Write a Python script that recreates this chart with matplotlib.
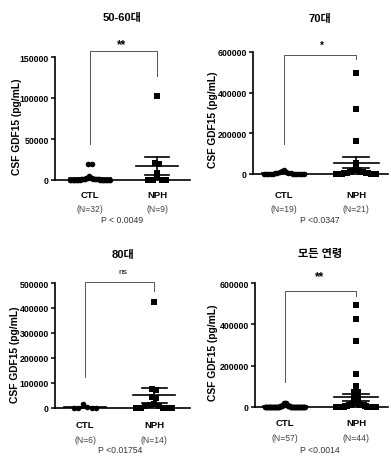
import numpy as np
import matplotlib
matplotlib.use("Agg")
import matplotlib.pyplot as plt

plt.rcParams['font.family'] = ['Liberation Sans', 'Noto Sans CJK KR', 'DejaVu Sans']

# values (pg/mL)
ctl_5060 = [19000, 19000, 5000, 3000, 2500, 2000, 2000, 1800, 1500, 1500, 1200, 1000,
            1000, 900, 800, 700, 600, 500, 500, 400, 400, 300, 300, 300, 200, 200, 200,
            150, 100, 100, 100, 50]
nph_5060 = [102000, 21000, 20000, 9000, 4000, 500, 300, 200, 100]

ctl_70 = [20000, 15000, 12000, 8000, 5000, 4000, 3000, 2500, 2000, 1500, 1200, 1000,
          800, 600, 500, 400, 300, 200, 100]
nph_70 = [495000, 320000, 160000, 55000, 25000, 20000, 18000, 15000, 12000, 10000,
          8000, 6000, 5000, 4000, 3000, 2000, 1500, 1000, 800, 500, 300]

ctl_80 = [15000, 3000, 2000, 1000, 500, 200]
nph_80 = [425000, 75000, 72000, 45000, 40000, 15000, 10000, 12000, 8000, 2000, 1000,
          500, 300, 200]

ctl_all = ctl_5060 + ctl_70 + ctl_80
nph_all = nph_5060 + nph_70 + nph_80

titles = ["50-60대", "70대", "80대", "모든 연령"]
stars = ["**", "*", "ns", "**"]
pvals = ["P < 0.0049", "P <0.0347", "P <0.01754", "P <0.0014"]
yticks = [[0, 50000, 100000, 150000],
          [0, 200000, 400000, 600000],
          [0, 100000, 200000, 300000, 400000, 500000],
          [0, 200000, 400000, 600000]]
groups = [(ctl_5060, nph_5060), (ctl_70, nph_70), (ctl_80, nph_80), (ctl_all, nph_all)]

W, H = 391, 460
fig = plt.figure(figsize=(W / 100, H / 100), dpi=100)


def px(x, y):
    return x / W, 1 - y / H


# axes boxes in pixels: yaxis x, right x, top y, zero y, xlim
boxes = [(55, 190, 58, 181, (0.48, 2.49)),
         (253, 388, 53, 175, (0.57, 2.44)),
         (55, 190, 284, 409, (0.565, 2.52)),
         (255, 388, 284, 408, (0.577, 2.45))]
# bracket: top, left leg bottom, right leg bottom (data units)
brackets = [(157000, 44000, 127000),
            (585000, 147000, 565000),
            (504000, 124000, 468000),
            (561000, 121000, 537000)]
# text positions in pixels
title_pos = [(122, 18), (320, 19), (123, 255), (320, 254)]
star_pos = [(122, 45), (322, 46), (123, 273), (320, 277)]
lab_y = [(196, 210, 221), (196, 210, 221), (426, 441, 451), (424, 439, 451)]
p_x = [122, 320, 120, 320]
ylab_pos = [(17, 127), (213, 120), (15, 355), (213, 353)]


def swarm(vals, ymax, h_px, unit_px, d=4.5, halfw=20.0):
    vals = np.asarray(vals, float)
    ypx = vals / ymax * h_px
    bins = np.floor(ypx / d).astype(int)
    offs = np.zeros(len(vals))
    for b in np.unique(bins):
        idx = np.where(bins == b)[0]
        n = len(idx)
        if n == 1:
            continue
        sp = min(d, 2 * halfw / (n - 1))
        slots = (np.arange(n) - (n - 1) / 2) * sp
        # highest values in the middle, lower ones outward
        slots = slots[np.argsort(np.abs(slots), kind='stable')]
        order = idx[np.argsort(-vals[idx], kind='stable')]
        offs[order] = slots
    return offs / unit_px


for i, (box, (ctl, nph)) in enumerate(zip(boxes, groups)):
    x0, x1, ytop, yzero, xlim = box
    ax = fig.add_axes([x0 / W, 1 - yzero / H, (x1 - x0) / W, (yzero - ytop) / H])
    ymax = yticks[i][-1]
    ax.set_xlim(*xlim)
    ax.set_ylim(0, ymax)
    unit_px = (x1 - x0) / (xlim[1] - xlim[0])
    h_px = yzero - ytop

    for pos, vals, mk, ms in [(1, ctl, 'o', 4.0), (2, nph, 's', 3.7)]:
        off = swarm(vals, ymax, h_px, unit_px)
        ax.plot(pos + off, vals, mk, color='black', ms=ms, mew=0, ls='none',
                clip_on=False, zorder=3)
        m = np.mean(vals)
        sem = np.std(vals, ddof=1) / np.sqrt(len(vals))
        ax.plot([pos - 0.31, pos + 0.31], [m, m], color='black', lw=1.2, zorder=4,
                clip_on=False)
        ax.plot([pos, pos], [m - sem, m + sem], color='black', lw=1.2, zorder=4,
                clip_on=False)
        for yy in (m - sem, m + sem):
            ax.plot([pos - 0.18, pos + 0.18], [yy, yy], color='black', lw=1.2,
                    zorder=4, clip_on=False)

    top, lb, rb = brackets[i]
    ax.plot([1, 1, 2, 2], [lb, top, top, rb], color='#555555', lw=0.7,
            clip_on=False, zorder=2)

    ax.set_yticks(yticks[i])
    ax.set_yticklabels([str(t) for t in yticks[i]], fontsize=6.3, fontweight='bold')
    ax.set_xticks([])
    for s in ['top', 'right']:
        ax.spines[s].set_visible(False)
    for s in ['left', 'bottom']:
        ax.spines[s].set_linewidth(1.2)
    ax.tick_params(axis='y', direction='out', length=3, width=1.1, pad=1.5)

    # texts
    tx, ty = title_pos[i]
    fig.text(*px(tx, ty), titles[i], fontsize=8, fontweight='bold',
             ha='center', va='center')
    sx, sy = star_pos[i]
    if stars[i] == 'ns':
        fig.text(*px(sx, sy), stars[i], fontsize=6, ha='center', va='center')
    elif stars[i] == '*':
        fig.text(*px(sx, sy), stars[i], fontsize=7, fontweight='bold',
                 ha='center', va='center')
    else:
        fig.text(*px(sx, sy), stars[i], fontsize=8.5, fontweight='bold',
                 ha='center', va='center')
    gy, ny, py = lab_y[i]
    cx = x0 + (1 - xlim[0]) * unit_px
    nx = x0 + (2 - xlim[0]) * unit_px
    fig.text(*px(cx, gy), "CTL", fontsize=6.8, fontweight='bold', ha='center', va='center')
    fig.text(*px(nx, gy), "NPH", fontsize=6.8, fontweight='bold', ha='center', va='center')
    fig.text(*px(cx, ny), "(N=%d)" % len(ctl), fontsize=6.2, color='#444444',
             ha='center', va='center')
    fig.text(*px(nx, ny), "(N=%d)" % len(nph), fontsize=6.2, color='#444444',
             ha='center', va='center')
    fig.text(*px(p_x[i], py), pvals[i], fontsize=6.2, color='#333333',
             ha='center', va='center')
    lx, ly = ylab_pos[i]
    fig.text(*px(lx, ly), "CSF GDF15 (pg/mL)", fontsize=7.4, fontweight='bold',
             rotation=90, ha='center', va='center')

fig.savefig("out.png", dpi=100)
